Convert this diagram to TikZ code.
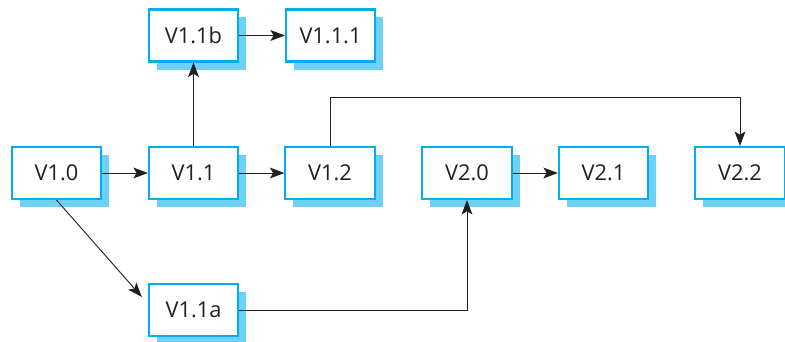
\documentclass[tikz,border=0pt]{standalone}
\usepackage{fontspec}
\setsansfont{Open Sans}
\usetikzlibrary{calc,arrows.meta,shadows}
\definecolor{frame}{HTML}{00AEEF}
\definecolor{shade}{HTML}{6DD0F7}
\definecolor{ink}{HTML}{231F20}
\tikzset{
  ver/.style={draw=frame, line width=1.5pt, fill=white, minimum width=2.23cm, minimum height=1.3cm,
    inner sep=0pt, text=ink, font=\sffamily\fontsize{15.5}{18}\selectfont,
    general shadow={fill=shade, shadow xshift=0.2cm, shadow yshift=-0.2cm}},
  link/.style={draw=ink, line width=0.65pt, -{Stealth[length=0.36cm, width=0.27cm, inset=0.08cm]}},
}

\begin{document}
\begin{tikzpicture}[x=0.025cm, y=-0.025cm]
  \useasboundingbox (0,0) rectangle (785,342);

  % main line
  \node[ver] (v10) at (56.5,173) {V1.0};
  \node[ver] (v11) at (193.5,173) {V1.1};
  \node[ver] (v12) at (330,173) {V1.2};
  \node[ver] (v20) at (467,173) {V2.0};
  \node[ver] (v21) at (603.5,173) {V2.1};
  \node[ver] (v22) at (740,173) {V2.2};

  % branches
  \node[ver] (v11b) at (193.5,35.5) {V1.1b};
  \node[ver] (v111) at (330.5,35.5) {V1.1.1};
  \node[ver] (v11a) at (193.5,310) {V1.1a};

  \coordinate (over) at (0,97);
  \coordinate (hit) at ($(v11a.north west)+(-6,14)$);

  \draw[link] (v10) -- (v11);
  \draw[link] (v11) -- (v12);
  \draw[link] (v11) -- (v11b);
  \draw[link] (v11b) -- (v111);
  \draw[link] (v20) -- (v21);
  \draw[link] (v12.north) -- (v12.north |- over) -| (v22.north);
  \draw[link] (v10.south) -- (hit);
  \draw[link] (v11a.east) -| (v20.south);
\end{tikzpicture}
\end{document}
